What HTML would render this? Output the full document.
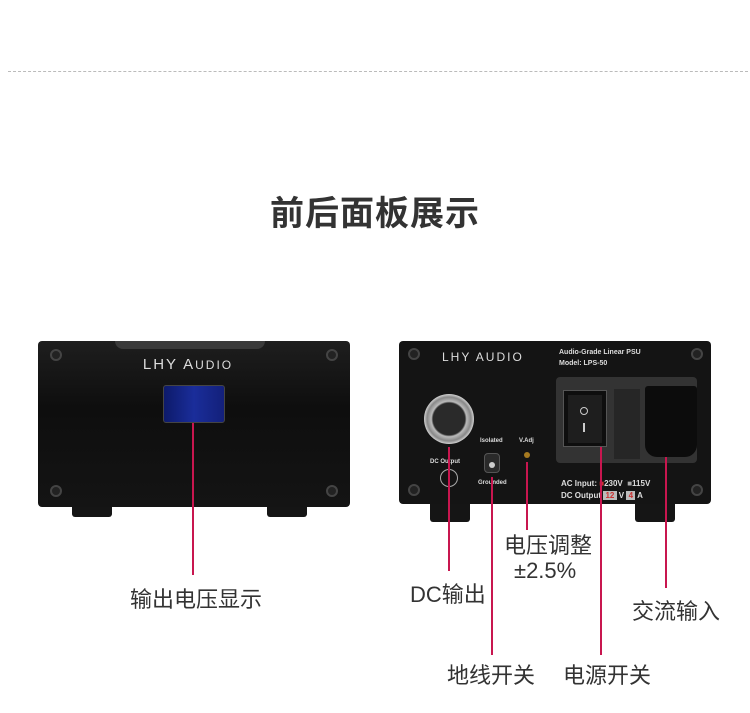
<!DOCTYPE html>
<html><head><meta charset="utf-8"><style>
*{margin:0;padding:0;box-sizing:border-box}
body{width:750px;height:713px;background:#fff;position:relative;overflow:hidden;font-family:"Liberation Sans","Noto Sans CJK SC",sans-serif}
.a{position:absolute}
.lbl{position:absolute;font-size:22px;color:#333;white-space:nowrap;line-height:24px}
.rl{position:absolute;width:2px;background:#c8164f}
.scr{position:absolute;width:12px;height:12px;border-radius:50%;background:#222;border:2px solid #444}
.sm{position:absolute;color:#ddd;font-size:7px;font-weight:bold;white-space:nowrap}
</style></head><body>
<div class="a" style="left:8px;top:71px;width:740px;border-top:1px dashed #bbb"></div>
<div class="a" style="left:0;width:750px;top:186px;text-align:center;font-size:34px;font-weight:bold;color:#333;letter-spacing:1px">前后面板展示</div>

<div class="a" style="left:72px;top:505px;width:40px;height:12px;background:#151515;border-radius:0 0 3px 3px"></div>
<div class="a" style="left:267px;top:505px;width:40px;height:12px;background:#151515;border-radius:0 0 3px 3px"></div>
<div class="a" style="left:38px;top:341px;width:312px;height:166px;background:linear-gradient(#1e1e1e,#0e0e0e 40%,#141414);border-radius:4px"></div>
<div class="a" style="left:115px;top:341px;width:150px;height:8px;background:#3a3a3a;border-radius:0 0 20px 20px"></div>
<div class="scr" style="left:50px;top:349px"></div><div class="scr" style="left:326px;top:349px"></div>
<div class="scr" style="left:50px;top:485px"></div><div class="scr" style="left:326px;top:485px"></div>
<div class="a" style="left:128px;top:356px;width:120px;text-align:center;color:#ddd;font-size:15px;letter-spacing:2px">LHY A<span style="font-size:12px">UDIO</span></div>
<div class="a" style="left:163px;top:385px;width:62px;height:38px;background:linear-gradient(90deg,#0d1a6a,#1a2d9a,#13207a);border:1px solid #444;border-radius:3px"></div>
<div class="rl" style="left:192px;top:423px;height:152px"></div>
<div class="lbl" style="left:130px;top:588px">输出电压显示</div>

<div class="a" style="left:430px;top:502px;width:40px;height:20px;background:#151515;border-radius:0 0 3px 3px"></div>
<div class="a" style="left:635px;top:502px;width:40px;height:20px;background:#151515;border-radius:0 0 3px 3px"></div>
<div class="a" style="left:399px;top:341px;width:312px;height:163px;background:#141414;border-radius:4px"></div>
<div class="scr" style="left:408px;top:348px"></div><div class="scr" style="left:691px;top:348px"></div>
<div class="scr" style="left:408px;top:484px"></div><div class="scr" style="left:691px;top:484px"></div>
<div class="a" style="left:442px;top:350px;color:#ddd;font-size:12px;letter-spacing:2px">LHY AUDIO</div>
<div class="sm" style="left:559px;top:349px">Audio-Grade Linear PSU</div>
<div class="sm" style="left:559px;top:360px">Model: LPS-50</div>
<div class="a" style="left:424px;top:394px;width:50px;height:50px;border-radius:50%;background:radial-gradient(#2a2a2a 45%,#bbb 50%,#888 62%,#ddd 72%)"></div>
<div class="sm" style="left:430px;top:459px;font-size:6px">DC Output</div>
<div class="a" style="left:440px;top:469px;width:18px;height:18px;border-radius:50%;border:1px solid #aaa"></div>
<div class="sm" style="left:480px;top:438px;font-size:6px">Isolated</div>
<div class="sm" style="left:478px;top:480px;font-size:6px">Grounded</div>
<div class="sm" style="left:519px;top:438px;font-size:6px">V.Adj</div>
<div class="a" style="left:484px;top:453px;width:16px;height:20px;border-radius:4px;background:#2a2a2a;border:1px solid #555"></div>
<div class="a" style="left:489px;top:462px;width:6px;height:6px;border-radius:50%;background:#ccc"></div>
<div class="a" style="left:524px;top:452px;width:6px;height:6px;border-radius:50%;background:#a67a20"></div>
<div class="a" style="left:556px;top:377px;width:141px;height:86px;background:#333;border-radius:4px"></div>
<div class="a" style="left:563px;top:390px;width:44px;height:57px;background:#0e0e0e;border:1px solid #555"></div>
<div class="a" style="left:568px;top:395px;width:34px;height:48px;background:#1e1e1e"></div>
<div class="a" style="left:580px;top:407px;width:8px;height:8px;border-radius:50%;border:1px solid #ccc"></div>
<div class="a" style="left:583px;top:423px;width:2px;height:9px;background:#ccc"></div>
<div class="a" style="left:614px;top:389px;width:26px;height:70px;background:#262626"></div>
<div class="a" style="left:645px;top:386px;width:52px;height:71px;background:#0c0c0c;border-radius:3px 3px 12px 12px"></div>
<div class="sm" style="left:561px;top:479px;font-size:8px">AC Input: <span style="color:#c33">■</span>230V &nbsp;<span style="color:#aaa">■</span>115V</div>
<div class="sm" style="left:561px;top:491px;font-size:8px">DC Output <span style="background:#bbb;color:#c33">&nbsp;12&nbsp;</span> V <span style="background:#bbb;color:#c33">&nbsp;4&nbsp;</span> A</div>
<div class="rl" style="left:448px;top:447px;height:124px"></div>
<div class="rl" style="left:491px;top:477px;height:178px"></div>
<div class="rl" style="left:526px;top:462px;height:68px"></div>
<div class="rl" style="left:600px;top:447px;height:208px"></div>
<div class="rl" style="left:665px;top:457px;height:131px"></div>
<div class="lbl" style="left:410px;top:583px">DC输出</div>
<div class="lbl" style="left:504px;top:534px">电压调整</div>
<div class="lbl" style="left:514px;top:559px">±2.5%</div>
<div class="lbl" style="left:447px;top:664px">地线开关</div>
<div class="lbl" style="left:563px;top:664px">电源开关</div>
<div class="lbl" style="left:632px;top:600px">交流输入</div>
</body></html>
